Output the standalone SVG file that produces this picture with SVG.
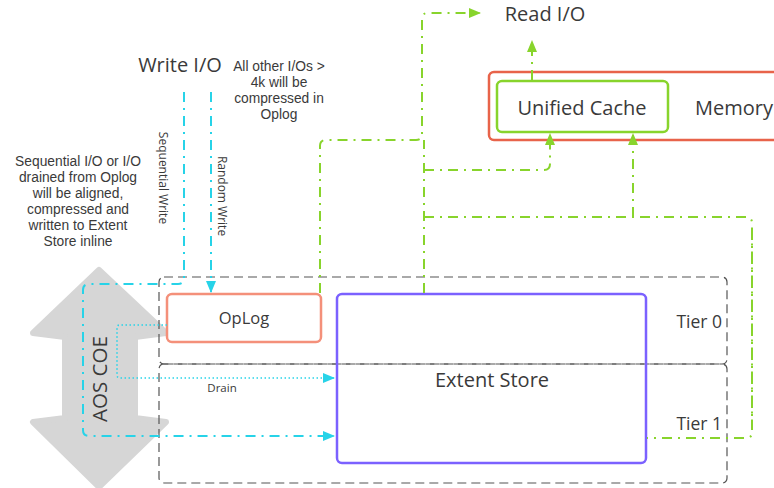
<svg xmlns="http://www.w3.org/2000/svg" width="774" height="488" viewBox="0 0 774 488">
<defs>
<marker id="ac" viewBox="0 0 12 10" refX="11" refY="5" markerWidth="12" markerHeight="10" markerUnits="userSpaceOnUse" orient="auto"><path d="M0,0 L12,5 L0,10 Z" fill="#27D3E8"/></marker>
<marker id="ag" viewBox="0 0 12 10" refX="11" refY="5" markerWidth="12" markerHeight="10" markerUnits="userSpaceOnUse" orient="auto"><path d="M0,0 L12,5 L0,10 Z" fill="#88D42C"/></marker>
<style>
text{font-family:"Open Sans","Noto Sans","Liberation Sans",sans-serif;fill:#3a3a3a}
text.ml{font-family:"Liberation Sans",Arial,sans-serif;font-size:13.8px}
.tier{fill:none;stroke:#555;stroke-width:1.2;stroke-dasharray:9 5}
.cy{fill:none;stroke:#27D3E8;stroke-width:2;stroke-dasharray:10 6 2 6}
.cyd{fill:none;stroke:#27D3E8;stroke-width:1.6;stroke-dasharray:1.5 2.5}
.gr{fill:none;stroke:#88D42C;stroke-width:2;stroke-dasharray:10 6 2 6}
</style>
</defs>
<g id="aos-coe">
<path d="M99,270 L166,333 L135,337 L135,418 L166,422 L99,487 L33,422 L65,418 L65,337 L33,333 Z" fill="#D6D6D6" stroke="#D6D6D6" stroke-width="6" stroke-linejoin="round"/>
<text x="99" y="379" font-size="20.5" text-anchor="middle" dominant-baseline="central" transform="rotate(-90 99 379)">AOS COE</text>
</g>
<g id="tier0">
<rect x="159" y="277" width="568" height="87" rx="5" class="tier"/>
<text x="722" y="328" font-size="17.5" text-anchor="end">Tier 0</text>
</g>
<g id="tier1">
<rect x="159" y="364" width="568" height="119" rx="5" class="tier"/>
<text x="722" y="430" font-size="17.5" text-anchor="end">Tier 1</text>
</g>
<g id="memory">
<rect x="489" y="72" width="300" height="68" rx="5" fill="#fff" stroke="#E8634A" stroke-width="2.5"/>
<text x="695" y="115" font-size="20" >Memory</text>
</g>
<g id="unified-cache">
<rect x="497" y="81" width="171" height="51" rx="5" fill="#fff" stroke="#88D42C" stroke-width="2.5"/>
<text x="582" y="115" font-size="20" text-anchor="middle">Unified Cache</text>
</g>
<g id="oplog">
<rect x="167" y="294" width="154" height="48" rx="5" fill="#fff" stroke="#F4907A" stroke-width="2.5"/>
<text x="244" y="324" font-size="16.5" text-anchor="middle">OpLog</text>
</g>
<g id="extent-store">
<rect x="337" y="294" width="309" height="169" rx="5" fill="none" stroke="#7B61FF" stroke-width="2.5"/>
<text x="492" y="387" font-size="20" text-anchor="middle">Extent Store</text>
</g>
<g id="labels">
<text x="180" y="72" font-size="20" text-anchor="middle">Write I/O</text>
<text class="ml" x="279" y="71" text-anchor="middle">All other I/Os &gt;</text>
<text class="ml" x="279" y="87" text-anchor="middle">4k will be</text>
<text class="ml" x="279" y="103" text-anchor="middle">compressed in</text>
<text class="ml" x="279" y="119" text-anchor="middle">Oplog</text>
<text class="ml" x="78" y="166" text-anchor="middle">Sequential I/O or I/O</text>
<text class="ml" x="78" y="182" text-anchor="middle">drained from Oplog</text>
<text class="ml" x="78" y="198" text-anchor="middle">will be aligned,</text>
<text class="ml" x="78" y="214" text-anchor="middle">compressed and</text>
<text class="ml" x="78" y="230" text-anchor="middle">written to Extent</text>
<text class="ml" x="78" y="246" text-anchor="middle">Store inline</text>
<text x="163" y="178" font-size="12" text-anchor="middle" dominant-baseline="central" transform="rotate(90 163 178)">Sequential Write</text>
<text x="222" y="196" font-size="12" text-anchor="middle" dominant-baseline="central" transform="rotate(90 222 196)">Random Write</text>
<text x="222" y="392" font-size="11.5" text-anchor="middle">Drain</text>
<text x="545" y="21" font-size="20" text-anchor="middle">Read I/O</text>
</g>
<g id="connectors">
<path class="cy" d="M184,92 V278 Q184,284 178,284 H89 Q83,284 83,290 V430 Q83,436 89,436 H334" marker-end="url(#ac)"/>
<path class="cy" d="M211,92 V292" marker-end="url(#ac)"/>
<path class="cyd" d="M167,325 H120 Q117,325 117,328 V375 Q117,378 120,378 H334" marker-end="url(#ac)"/>
<path class="gr" d="M320,293 V146 Q320,140 326,140 H416 Q422,140 422,134 V19 Q422,13 428,13 H480" marker-end="url(#ag)"/>
<path class="gr" d="M424,293 V140"/>
<path class="gr" d="M424,170 H544 Q550,170 550,164 V134" marker-end="url(#ag)"/>
<path class="gr" d="M424,217 H746 Q752,217 752,223 V432 Q752,438 746,438 H647"/>
<path class="gr" stroke-width="2.5" d="M752,230 V430"/>
<path class="gr" d="M633,217 V134" marker-end="url(#ag)"/>
<path class="gr" d="M532,80 V41" marker-end="url(#ag)"/>
</g>
</svg>
